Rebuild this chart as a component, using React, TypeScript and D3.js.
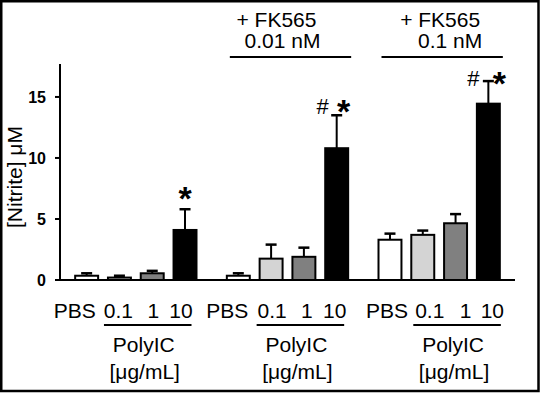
import * as d3 from 'd3';

// chart values
const groups = ['control', 'fk001', 'fk01'];
const doses = ['PBS', '0.1', '1', '10'];
const meansControl = [0.35, 0.2, 0.55, 4.1];
const errControl = [0.2, 0.15, 0.2, 1.7];
const meansFk001 = [0.35, 1.75, 1.9, 10.8];
const errFk001 = [0.2, 1.15, 0.75, 2.7];
const meansFk01 = [3.3, 3.7, 4.65, 14.45];
const errFk01 = [0.5, 0.35, 0.75, 1.85];
const yTicks = [0, 5, 10, 15];
const groupTitles = [[], ['+ FK565', '0.01 nM'], ['+ FK565', '0.1 nM']];
const groupMarkers = [['*'], ['#', '*'], ['#', '*']];

const means = [meansControl, meansFk001, meansFk01];
const errs = [errControl, errFk001, errFk01];

// fills per dose
const fills = ['#ffffff', '#d4d4d4', '#808080', '#000000'];

// hand nudges for the text, as in the original figure
const labelDx = [[-12, -1, 1, -4], [-11, 1, 3, -2], [-3, 7, 10, 4]];
const lineShift = [-4, -3, 2];
const titleDx = [[], [-14, -8], [-2, 8]];
const markerDx = [[0], [-14, 7], [-15, 11]];
const markerRise = [23, 16, 10];

const W = 540;
const H = 393;
const FONT = '"Liberation Sans", Arial, Helvetica, sans-serif';

export default function App() {
  const x0 = d3.scaleBand<string>().domain(groups).range([60, 515]).paddingInner(0.2).paddingOuter(0.1);
  const x1 = d3.scaleBand<string>().domain(doses).range([0, x0.bandwidth()]).paddingInner(0.3);
  const y = d3.scaleLinear().domain([0, 17.7]).range([280, 64]);
  const bw = x1.bandwidth();

  return (
    <svg width={W} height={H} style={{ position: 'absolute', left: 0, top: 0, fontFamily: FONT }}>
      <rect x={0} y={0} width={W} height={H} fill="#fff" />
      <rect x={1.25} y={1.25} width={537.25} height={389.75} fill="none" stroke="#000" strokeWidth={2.5} />

      {/* y axis */}
      <line x1={60} x2={60} y1={y(17.7)} y2={y(0)} stroke="#000" strokeWidth={2} />
      {yTicks.map(t => (
        <g key={t}>
          <line x1={55} x2={60} y1={y(t)} y2={y(t)} stroke="#000" strokeWidth={2} />
          <text x={46} y={y(t)} dy="0.36em" textAnchor="end" fontSize={16} fontWeight="bold">{t}</text>
        </g>
      ))}
      <text transform={`translate(22,177) rotate(-90)`} textAnchor="middle" fontSize={21}>[Nitrite] μM</text>

      {groups.map((g, gi) => {
        const gx = x0(g)!;
        const lineL = gx + x1('0.1')! + lineShift[gi];
        const lineR = gx + x1('10')! + bw + lineShift[gi] - 1;
        const lastTop = y(means[gi][3] + errs[gi][3]);
        const lastCx = gx + x1('10')! + bw / 2;
        return (
          <g key={g}>
            {doses.map((d, di) => {
              const bx = gx + x1(d)!;
              const cx = bx + bw / 2;
              const top = y(means[gi][di]);
              const eTop = y(means[gi][di] + errs[gi][di]);
              return (
                <g key={d}>
                  <line x1={cx} x2={cx} y1={top} y2={eTop} stroke="#000" strokeWidth={2} />
                  <line x1={cx - 5.5} x2={cx + 5.5} y1={eTop} y2={eTop} stroke="#000" strokeWidth={2.5} />
                  <rect x={bx} y={top} width={bw} height={y(0) - top} fill={fills[di]} stroke="#000" strokeWidth={2} />
                  <text x={cx + labelDx[gi][di]} y={318} textAnchor="middle" fontSize={21}>{d}</text>
                </g>
              );
            })}
            <line x1={lineL} x2={lineR} y1={325} y2={325} stroke="#000" strokeWidth={2} />
            <text x={(lineL + lineR) / 2 - 4} y={352} textAnchor="middle" fontSize={21}>PolyIC</text>
            <text x={(lineL + lineR) / 2 - 3} y={379} textAnchor="middle" fontSize={21}>[μg/mL]</text>

            {groupTitles[gi].length > 0 && (
              <g>
                <line x1={gx + 3} x2={gx + x0.bandwidth() + 3} y1={57} y2={57} stroke="#000" strokeWidth={2} />
                {groupTitles[gi].map((t, ti) => (
                  <text key={ti} x={gx + x0.bandwidth() / 2 + 3 + titleDx[gi][ti]} y={27 + ti * 21} textAnchor="middle" fontSize={21}>{t}</text>
                ))}
              </g>
            )}

            {groupMarkers[gi].map((m, mi) => (
              m === '*'
                ? <text key={mi} x={lastCx + markerDx[gi][mi]} y={lastTop - markerRise[gi] + 24} textAnchor="middle" fontSize={34} fontWeight="bold">*</text>
                : <text key={mi} x={lastCx + markerDx[gi][mi]} y={lastTop - markerRise[gi] + 15} textAnchor="middle" fontSize={22}>#</text>
            ))}
          </g>
        );
      })}

      {/* x axis */}
      <line x1={60} x2={515} y1={y(0)} y2={y(0)} stroke="#000" strokeWidth={2} />
    </svg>
  );
}
